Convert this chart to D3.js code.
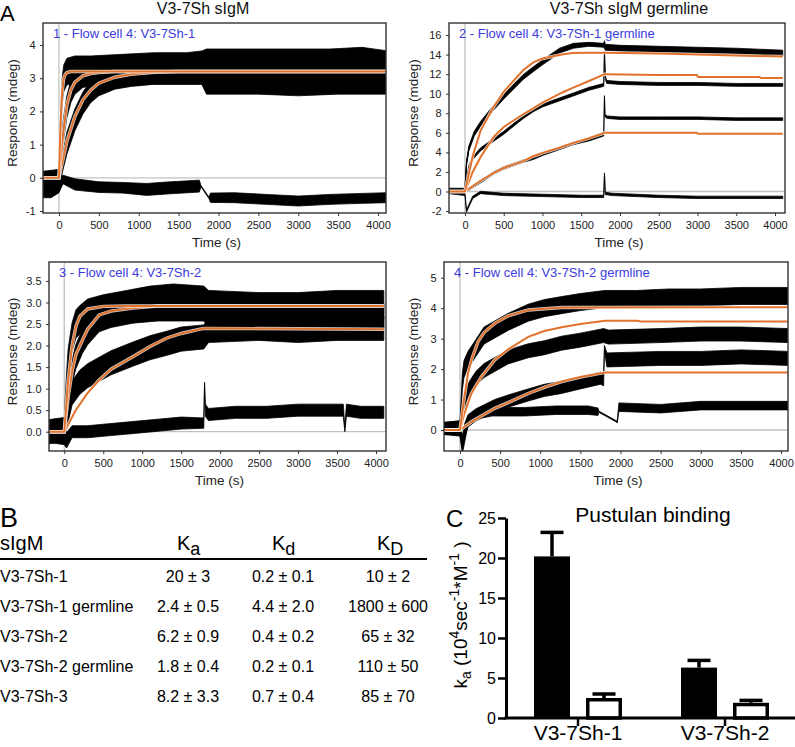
<!DOCTYPE html>
<html><head><meta charset="utf-8">
<script src="https://cdn.jsdelivr.net/npm/d3@7"></script>
<style>body{margin:0;background:#fff}svg{display:block;font-family:"Liberation Sans",Arial,sans-serif}</style>
</head><body><svg id="c" width="795" height="747"></svg>
<script>
// ---------------- DATA ----------------
const timeTicks = [0,500,1000,1500,2000,2500,3000,3500,4000];
const p1YTicks = [-1,0,1,2,3,4];
const p2YTicks = [-2,0,2,4,6,8,10,12,14,16];
const p3YTicks = [0,0.5,1,1.5,2,2.5,3,3.5];
const p4YTicks = [0,1,2,3,4,5];

const panelTitles = ["V3-7Sh sIgM", "V3-7Sh sIgM germline"];
const panelLabels = ["1 - Flow cell 4: V3-7Sh-1", "2 - Flow cell 4: V3-7Sh-1 germline",
                     "3 - Flow cell 4: V3-7Sh-2", "4 - Flow cell 4: V3-7Sh-2 germline"];

// traces: [time, centre, half-spread of noise]
const p1TraceA = [[-200,-0.15,0.3],[-100,-0.1,0.3],[0,0,0.25],[20,1.5,0.45],[40,2.6,0.4],[60,3.0,0.4],[100,3.2,0.4],[200,3.25,0.42],[400,3.25,0.42],[800,3.3,0.42],[1200,3.35,0.42],[1600,3.35,0.42],[1790,3.4,0.42],[1850,3.5,0.38],[2200,3.5,0.38],[2600,3.5,0.38],[3000,3.5,0.38],[3400,3.5,0.38],[3800,3.55,0.38],[4100,3.45,0.38]];
const p1TraceB = [[-200,-0.1,0.3],[0,0.05,0.2],[50,1.35,0.33],[100,2.15,0.33],[150,2.6,0.33],[200,2.85,0.33],[300,3.05,0.33],[500,3.15,0.33],[800,3.15,0.38],[1200,3.2,0.38],[1790,3.2,0.38],[1850,3.0,0.38],[2500,3.0,0.38],[3000,2.95,0.38],[3500,3.0,0.38],[4100,3.0,0.38]];
const p1TraceC = [[-200,-0.2,0.3],[0,-0.05,0.2],[100,1.05,0.33],[200,1.75,0.33],[300,2.25,0.33],[400,2.6,0.33],[500,2.8,0.33],[700,3.0,0.33],[900,3.08,0.33],[1200,3.15,0.33],[1790,3.15,0.33],[1850,2.9,0.38],[2500,2.9,0.38],[3000,2.85,0.38],[3500,2.9,0.38],[4100,2.9,0.38]];
const p1TraceD = [[-200,-0.3,0.3],[-100,-0.25,0.35],[0,-0.2,0.25],[50,-0.05,0.13],[200,-0.2,0.17],[500,-0.28,0.16],[800,-0.3,0.16],[1100,-0.35,0.18],[1400,-0.3,0.18],[1760,-0.25,0.18],[1780,-0.25,0.02],[1880,-0.6,0.02],[1900,-0.6,0.14],[2200,-0.6,0.15],[2600,-0.65,0.15],[3000,-0.7,0.15],[3400,-0.65,0.15],[3800,-0.62,0.15],[4100,-0.6,0.15]];
const p1FitA = [[-200,0],[0,0],[20,1.6],[40,2.6],[60,3.0],[80,3.12],[100,3.17],[150,3.2],[4100,3.2]];
const p1FitB = [[-200,0],[0,0],[50,1.3],[100,2.2],[150,2.65],[200,2.88],[300,3.07],[400,3.14],[500,3.17],[700,3.2],[4100,3.2]];
const p1FitC = [[-200,0],[0,0],[100,1.1],[200,1.85],[300,2.35],[400,2.65],[500,2.85],[700,3.03],[900,3.12],[1200,3.18],[1500,3.2],[4100,3.2]];

const p2TraceA = [[-200,0.2,0.13],[0,0.2,0.13],[20,3.0,0.15],[50,4.5,0.15],[119,6.0,0.15],[200,7.0,0.15],[373,8.7,0.15],[500,9.8,0.15],[750,11.8,0.15],[881,12.6,0.15],[1000,13.3,0.15],[1220,14.5,0.15],[1400,15.0,0.15],[1600,15.1,0.15],[1790,15.0,0.15],[1800,15.3,0.12],[1810,14.9,0.15],[2000,14.8,0.15],[2500,14.7,0.15],[3000,14.6,0.15],[3500,14.5,0.15],[4100,14.3,0.15]];
const p2TraceB = [[-200,0.1,0.13],[0,0.1,0.13],[20,2.8,0.15],[50,4.3,0.15],[119,5.8,0.15],[200,6.8,0.15],[373,8.5,0.15],[500,9.6,0.15],[750,11.6,0.15],[881,12.4,0.15],[1000,13.1,0.15],[1220,14.3,0.15],[1400,14.8,0.15],[1600,15.0,0.15],[1790,14.9,0.15],[1810,14.6,0.15],[2000,14.5,0.15],[2500,14.4,0.15],[3000,14.3,0.15],[3500,14.2,0.15],[4100,14.0,0.15]];
const p2TraceC = [[-200,0.1,0.13],[0,0.1,0.13],[50,2.5,0.15],[100,3.4,0.15],[200,4.3,0.15],[373,5.3,0.15],[500,6.0,0.15],[750,7.6,0.15],[881,8.3,0.15],[1000,8.8,0.15],[1250,9.5,0.15],[1390,9.9,0.15],[1600,10.5,0.15],[1790,10.9,0.15],[1800,14.2,0.1],[1812,11.6,0.15],[1830,11.2,0.15],[2000,11.1,0.15],[2500,11.0,0.15],[3000,11.0,0.15],[3500,10.9,0.15],[4100,10.9,0.15]];
const p2TraceD = [[-200,0.1,0.13],[0,0.0,0.13],[100,0.5,0.13],[200,1.0,0.13],[373,1.9,0.13],[500,2.4,0.13],[750,3.1,0.13],[881,3.4,0.13],[1000,3.8,0.13],[1250,4.5,0.13],[1390,4.9,0.13],[1600,5.3,0.13],[1790,5.8,0.13],[1800,9.7,0.1],[1806,7.8,0.13],[1830,7.6,0.13],[2000,7.5,0.13],[2500,7.5,0.13],[3000,7.5,0.13],[3500,7.4,0.13],[4100,7.4,0.13]];
const p2TraceE = [[-200,-0.1,0.12],[0,-0.3,0.12],[20,-2.0,0.12],[60,-1.3,0.12],[100,-0.6,0.12],[200,-0.1,0.12],[500,-0.3,0.12],[1000,-0.4,0.12],[1500,-0.5,0.12],[1790,-0.5,0.12],[1800,1.8,0.1],[1810,-0.2,0.12],[1900,-0.3,0.12],[2500,-0.5,0.12],[3000,-0.6,0.12],[3500,-0.6,0.12],[4100,-0.6,0.12]];
const p2FitA = [[-200,0],[0,0],[100,3.6],[200,6.2],[373,8.7],[500,10.2],[750,12.4],[881,13.2],[1000,13.6],[1250,14.0],[1390,14.15],[1600,14.2],[1800,14.2],[2500,14.1],[3500,13.9],[4100,13.8]];
const p2FitB = [[-200,0],[0,0],[100,2.0],[200,3.5],[373,5.6],[500,6.6],[750,7.9],[881,8.5],[1000,9.1],[1250,10.1],[1390,10.6],[1600,11.3],[1800,12.0],[2500,11.9],[2990,11.9],[3010,11.7],[3800,11.7],[3820,11.6],[4100,11.6]];
const p2FitC = [[-200,0],[0,0],[200,1.1],[373,1.9],[500,2.4],[750,3.1],[881,3.6],[1000,3.95],[1250,4.55],[1390,4.95],[1600,5.45],[1800,6.0],[2990,6.0],[3010,5.9],[4100,5.9]];

const p3TraceA = [[-200,0.0,0.28],[0,0.05,0.28],[25,0.9,0.33],[50,1.6,0.33],[100,2.2,0.33],[150,2.5,0.33],[200,2.6,0.33],[300,2.75,0.33],[500,2.85,0.33],[800,2.95,0.33],[1100,3.05,0.33],[1400,3.1,0.33],[1790,3.05,0.33],[1850,2.95,0.33],[2500,2.9,0.33],[3000,2.9,0.33],[3500,2.95,0.33],[4100,2.95,0.33]];
const p3TraceB = [[-200,0.0,0.22],[0,0.0,0.22],[50,0.8,0.28],[100,1.4,0.28],[150,1.75,0.28],[233,2.1,0.28],[300,2.3,0.28],[448,2.6,0.28],[600,2.7,0.28],[879,2.8,0.28],[1200,2.85,0.28],[1790,2.85,0.28],[1850,2.7,0.28],[2500,2.7,0.28],[3000,2.65,0.28],[3500,2.7,0.28],[4100,2.7,0.28]];
const p3TraceC = [[-200,0.0,0.22],[0,0.0,0.22],[50,0.5,0.28],[100,0.9,0.28],[200,1.15,0.28],[300,1.3,0.28],[448,1.45,0.28],[600,1.6,0.28],[879,1.8,0.28],[1100,1.95,0.28],[1310,2.05,0.28],[1500,2.15,0.28],[1790,2.2,0.28],[1850,2.35,0.28],[2500,2.4,0.28],[3000,2.35,0.28],[3500,2.4,0.28],[4100,2.4,0.28]];
const p3TraceD = [[-200,0.0,0.25],[0,-0.05,0.25],[30,-0.2,0.18],[100,0.0,0.14],[300,0.0,0.14],[600,0.05,0.14],[900,0.1,0.14],[1200,0.15,0.14],[1500,0.2,0.14],[1790,0.2,0.12],[1800,1.1,0.05],[1810,0.5,0.14],[1850,0.4,0.14],[2200,0.45,0.14],[2600,0.45,0.14],[3000,0.5,0.14],[3400,0.5,0.14],[3580,0.5,0.14],[3600,0.05,0.05],[3620,0.5,0.14],[3800,0.45,0.14],[4100,0.45,0.14]];
const p3FitA = [[-200,0],[0,0],[50,1.2],[100,2.0],[150,2.45],[200,2.68],[300,2.85],[500,2.91],[800,2.92],[4100,2.92]];
const p3FitB = [[-200,0],[0,0],[50,0.8],[103,1.43],[150,1.8],[233,2.13],[300,2.38],[448,2.71],[600,2.8],[879,2.87],[1200,2.92],[4100,2.92]];
const p3FitC = [[-200,0],[0,0],[147,0.5],[300,0.9],[448,1.2],[600,1.45],[879,1.74],[1100,1.98],[1310,2.17],[1500,2.28],[1741,2.38],[1800,2.4],[4100,2.38]];

const p4TraceA = [[-200,0.05,0.2],[0,0.1,0.2],[30,1.6,0.28],[50,2.0,0.28],[100,2.3,0.28],[200,2.7,0.28],[300,3.1,0.28],[433,3.3,0.28],[600,3.55,0.28],[850,3.85,0.28],[1050,4.0,0.28],[1267,4.1,0.28],[1500,4.2,0.28],[1800,4.3,0.28],[2200,4.3,0.28],[2600,4.35,0.28],[3000,4.35,0.28],[3500,4.4,0.28],[4100,4.4,0.28]];
const p4TraceB = [[-200,0.05,0.2],[0,0.1,0.2],[50,0.9,0.23],[100,1.3,0.23],[200,1.7,0.23],[300,1.95,0.23],[433,2.15,0.23],[600,2.4,0.23],[850,2.6,0.23],[1050,2.7,0.23],[1267,2.85,0.23],[1500,2.95,0.23],[1790,3.1,0.23],[1850,3.05,0.23],[2500,3.1,0.23],[3000,3.15,0.23],[3500,3.15,0.23],[4100,3.1,0.23]];
const p4TraceC = [[-200,0.05,0.2],[0,0.0,0.2],[30,-0.4,0.22],[60,0.0,0.22],[100,0.3,0.2],[200,0.5,0.2],[433,0.8,0.2],[600,0.95,0.2],[850,1.15,0.2],[1050,1.3,0.2],[1267,1.4,0.2],[1500,1.55,0.2],[1750,1.7,0.2],[1790,1.65,0.2],[1800,2.7,0.08],[1830,2.3,0.23],[2500,2.35,0.23],[3000,2.35,0.23],[3500,2.4,0.23],[4100,2.35,0.23]];
const p4TraceD = [[-200,0.05,0.18],[0,0.0,0.18],[30,-0.6,0.18],[100,0.3,0.14],[200,0.5,0.14],[400,0.6,0.14],[800,0.6,0.14],[1200,0.65,0.14],[1600,0.65,0.14],[1720,0.6,0.12],[1730,0.6,0.02],[1950,0.28,0.02],[1960,0.28,0.05],[1980,0.75,0.14],[2500,0.7,0.14],[3000,0.8,0.14],[3500,0.8,0.14],[4100,0.8,0.14]];
const p4FitA = [[-200,0],[0,0],[50,1.0],[100,1.86],[150,2.35],[225,2.9],[300,3.2],[433,3.5],[600,3.75],[850,3.94],[1267,4.02],[4100,4.03]];
const p4FitB = [[-200,0],[0,0],[50,0.5],[142,1.2],[267,1.75],[433,2.3],[600,2.65],[850,3.06],[1050,3.25],[1267,3.37],[1500,3.48],[1808,3.59],[2200,3.59],[2250,3.56],[4100,3.56]];
const p4FitC = [[-200,0],[0,0],[142,0.27],[433,0.71],[600,0.9],[850,1.2],[1050,1.4],[1267,1.59],[1500,1.74],[1808,1.89],[4100,1.89]];

// table B
const tableNames = ["V3-7Sh-1","V3-7Sh-1 germline","V3-7Sh-2","V3-7Sh-2 germline","V3-7Sh-3"];
const tableKa = ["20 ± 3","2.4 ± 0.5","6.2 ± 0.9","1.8 ± 0.4","8.2 ± 3.3"];
const tableKd = ["0.2 ± 0.1","4.4 ± 2.0","0.4 ± 0.2","0.2 ± 0.1","0.7 ± 0.4"];
const tableKD = ["10 ± 2","1800 ± 600","65 ± 32","110 ± 50","85 ± 70"];

// bar chart C
const barGroups = ["V3-7Sh-1","V3-7Sh-2"];
const barMutated = [20.2, 6.3];
const barMutatedErr = [3.0, 0.9];
const barGermline = [2.5, 1.9];
const barGermlineErr = [0.5, 0.3];
const barTicks = [0,5,10,15,20,25];

// ---------------- DRAW ----------------
const svg = d3.select('#c');
svg.append('rect').attr('width',795).attr('height',747).attr('fill','#fff');
const ORANGE = '#e2712b', BLUE = '#3c3cdc', TXT = '#222';

const panels = [
  {left:43, right:386, top:23, bottom:213, xDomain:[-200,4100], yDomain:[-1.06,4.663], yTicks:p1YTicks, fmt:d=>String(d),
   traces:[p1TraceD,p1TraceC,p1TraceB,p1TraceA], fits:[p1FitC,p1FitB,p1FitA], label:panelLabels[0], ytx:12},
  {left:449, right:785, top:23, bottom:213, xDomain:[-206,4129], yDomain:[-2.2,17.23], yTicks:p2YTicks, fmt:d=>String(d),
   traces:[p2TraceE,p2TraceD,p2TraceC,p2TraceB,p2TraceA], fits:[p2FitC,p2FitB,p2FitA], label:panelLabels[1], ytx:413},
  {left:49, right:386, top:262, bottom:451, xDomain:[-196,4128], yDomain:[-0.448,3.94], yTicks:p3YTicks, fmt:d3.format('.1f'),
   traces:[p3TraceD,p3TraceC,p3TraceB,p3TraceA], fits:[p3FitC,p3FitB,p3FitA], label:panelLabels[2], ytx:12},
  {left:444, right:788, top:262, bottom:451, xDomain:[-199,4087], yDomain:[-0.689,5.515], yTicks:p4YTicks, fmt:d=>String(d),
   traces:[p4TraceD,p4TraceC,p4TraceB,p4TraceA], fits:[p4FitC,p4FitB,p4FitA], label:panelLabels[3], ytx:413}
];

const defs = svg.append('defs');
panels.forEach((p, i) => {
  const x = d3.scaleLinear().domain(p.xDomain).range([p.left, p.right]);
  const y = d3.scaleLinear().domain(p.yDomain).range([p.bottom, p.top]);
  defs.append('clipPath').attr('id','clip'+i).append('rect')
    .attr('x',p.left).attr('y',p.top).attr('width',p.right-p.left).attr('height',p.bottom-p.top);
  const g = svg.append('g');
  const inner = g.append('g').attr('clip-path',`url(#clip${i})`);
  inner.append('line').attr('x1',x(0)).attr('x2',x(0)).attr('y1',p.top).attr('y2',p.bottom)
    .attr('stroke','#c2c2c2').attr('stroke-width',1.3);
  inner.append('line').attr('x1',p.left).attr('x2',p.right).attr('y1',y(0)).attr('y2',y(0))
    .attr('stroke','#c2c2c2').attr('stroke-width',1.3);
  const area = d3.area().x(d=>x(d[0])).y0(d=>y(d[1]-d[2])).y1(d=>y(d[1]+d[2]));
  p.traces.forEach(tr => inner.append('path').datum(tr).attr('d',area)
    .attr('fill','#000').attr('stroke','#000').attr('stroke-width',0.8));
  const line = d3.line().x(d=>x(d[0])).y(d=>y(d[1]));
  p.fits.forEach(f => {
    inner.append('path').datum(f).attr('d',line).attr('fill','none').attr('stroke','#fff').attr('stroke-width',3.4).attr('stroke-opacity',0.8);
    inner.append('path').datum(f).attr('d',line).attr('fill','none').attr('stroke',ORANGE).attr('stroke-width',2);
  });
  g.append('rect').attr('x',p.left).attr('y',p.top).attr('width',p.right-p.left).attr('height',p.bottom-p.top)
    .attr('fill','none').attr('stroke','#333').attr('stroke-width',1.4);
  const ax = g.append('g').attr('transform',`translate(0,${p.bottom})`)
    .call(d3.axisBottom(x).tickValues(timeTicks).tickSize(3).tickPadding(5).tickFormat(d=>String(d)));
  const ay = g.append('g').attr('transform',`translate(${p.left},0)`)
    .call(d3.axisLeft(y).tickValues(p.yTicks).tickSize(3).tickPadding(4.5).tickFormat(p.fmt));
  [ax, ay].forEach(a => {
    a.select('.domain').remove();
    a.selectAll('.tick line').attr('stroke','#333');
    a.selectAll('text').attr('font-size',11).attr('fill',TXT).attr('font-family','"Liberation Sans",Arial,sans-serif');
  });
  g.append('text').attr('x',(p.left+p.right)/2+2).attr('y',p.bottom+34).attr('text-anchor','middle')
    .attr('font-size',13.5).attr('fill',TXT).text('Time (s)');
  g.append('text').attr('transform',`translate(${p.ytx},${(p.top+p.bottom)/2-5}) rotate(-90)`)
    .attr('text-anchor','middle').attr('dy','0.35em').attr('font-size',13.5).attr('fill',TXT).text('Response (mdeg)');
  g.append('text').attr('x',p.left+10).attr('y',p.top+15).attr('font-size',13).attr('fill',BLUE).text(p.label);
});

svg.append('text').attr('x',203).attr('y',14).attr('text-anchor','middle').attr('font-size',16).attr('fill','#111').text(panelTitles[0]);
svg.append('text').attr('x',629).attr('y',14).attr('text-anchor','middle').attr('font-size',16).attr('fill','#111').text(panelTitles[1]);
svg.append('text').attr('x',0).attr('y',21).attr('font-size',22).attr('fill','#000').text('A');

// ---- Table B ----
svg.append('text').attr('x',0).attr('y',527).attr('font-size',27).attr('fill','#000').text('B');
svg.append('text').attr('x',0).attr('y',550).attr('font-size',20).attr('fill','#000').text('sIgM');
function kHead(xp, sub) {
  const t = svg.append('text').attr('x',xp).attr('y',550).attr('font-size',20).attr('fill','#000');
  t.append('tspan').text('K');
  t.append('tspan').attr('dy',5).attr('font-size',18).text(sub);
}
kHead(177,'a'); kHead(272,'d'); kHead(377,'D');
svg.append('line').attr('x1',0).attr('x2',427).attr('y1',559).attr('y2',559).attr('stroke','#000').attr('stroke-width',2);
const rowY = d3.scalePoint().domain(tableNames).range([582,702]);
tableNames.forEach((n,i) => {
  const yy = rowY(n);
  svg.append('text').attr('x',0).attr('y',yy).attr('font-size',16).attr('fill','#000').text(n);
  svg.append('text').attr('x',188).attr('y',yy).attr('text-anchor','middle').attr('font-size',16).attr('fill','#000').text(tableKa[i]);
  svg.append('text').attr('x',283).attr('y',yy).attr('text-anchor','middle').attr('font-size',16).attr('fill','#000').text(tableKd[i]);
  svg.append('text').attr('x',388).attr('y',yy).attr('text-anchor','middle').attr('font-size',16).attr('fill','#000').text(tableKD[i]);
});

// ---- Bar chart C ----
const yC = d3.scaleLinear().domain([0,25]).range([718,518]);
const x0 = d3.scaleBand().domain(barGroups).range([504.5,798.5]);
const x1 = d3.scaleBand().domain(['mut','germ']).range([29.5,117.5]).paddingInner(0.3077);
const gC = svg.append('g');
const bw = x1.bandwidth();
barGroups.forEach((grp,i) => {
  const items = [
    {k:'mut', v:barMutated[i], e:barMutatedErr[i], fill:'#000'},
    {k:'germ', v:barGermline[i], e:barGermlineErr[i], fill:'#fff'}
  ];
  items.forEach(it => {
    const bx = x0(grp) + x1(it.k);
    const cx = bx + bw/2;
    gC.append('line').attr('x1',cx).attr('x2',cx).attr('y1',yC(it.v)).attr('y2',yC(it.v+it.e))
      .attr('stroke','#000').attr('stroke-width',3.5);
    gC.append('line').attr('x1',cx-11.5).attr('x2',cx+11.5).attr('y1',yC(it.v+it.e)).attr('y2',yC(it.v+it.e))
      .attr('stroke','#000').attr('stroke-width',3.5);
    if (it.fill === '#000') {
      gC.append('rect').attr('x',bx).attr('y',yC(it.v)).attr('width',bw).attr('height',yC(0)-yC(it.v)).attr('fill','#000');
    } else {
      gC.append('rect').attr('x',bx+1.75).attr('y',yC(it.v)+1.75).attr('width',bw-3.5).attr('height',yC(0)-yC(it.v)-1.75)
        .attr('fill','#fff').attr('stroke','#000').attr('stroke-width',3.5);
    }
  });
});
const ayC = gC.append('g').attr('transform','translate(506,0)')
  .call(d3.axisLeft(yC).tickValues(barTicks).tickSize(8).tickSizeOuter(0).tickPadding(2));
ayC.select('.domain').attr('stroke','#000').attr('stroke-width',3);
ayC.selectAll('.tick line').attr('stroke','#000').attr('stroke-width',2.5);
ayC.selectAll('text').attr('font-size',16).attr('fill','#000').attr('font-family','"Liberation Sans",Arial,sans-serif');
const axC = gC.append('g').attr('transform','translate(0,718)')
  .call(d3.axisBottom(x0).tickSize(8).tickSizeOuter(0).tickPadding(5));
axC.select('.domain').remove();
gC.append('line').attr('x1',504.5).attr('x2',795).attr('y1',718).attr('y2',718).attr('stroke','#000').attr('stroke-width',3);
axC.selectAll('.tick line').attr('stroke','#000').attr('stroke-width',2.5);
axC.selectAll('text').attr('font-size',21).attr('fill','#000').attr('font-family','"Liberation Sans",Arial,sans-serif')
  .attr('y',22).attr('dy',0);
svg.append('text').attr('x',653).attr('y',522).attr('text-anchor','middle').attr('font-size',21).attr('fill','#000').text('Pustulan binding');
svg.append('text').attr('x',446).attr('y',527).attr('font-size',24).attr('fill','#000').text('C');
const yl = svg.append('text').attr('transform','translate(467,615) rotate(-90)').attr('text-anchor','middle')
  .attr('font-size',19).attr('fill','#000');
yl.append('tspan').text('k');
yl.append('tspan').attr('dy',4).attr('font-size',14).text('a');
yl.append('tspan').attr('dy',-4).text(' (10');
yl.append('tspan').attr('dy',-8).attr('font-size',14).text('4');
yl.append('tspan').attr('dy',8).text('sec');
yl.append('tspan').attr('dy',-8).attr('font-size',14).text('-1');
yl.append('tspan').attr('dy',8).text('*M');
yl.append('tspan').attr('dy',-8).attr('font-size',14).text('-1');
yl.append('tspan').attr('dy',8).text(' )');
</script></body></html>
